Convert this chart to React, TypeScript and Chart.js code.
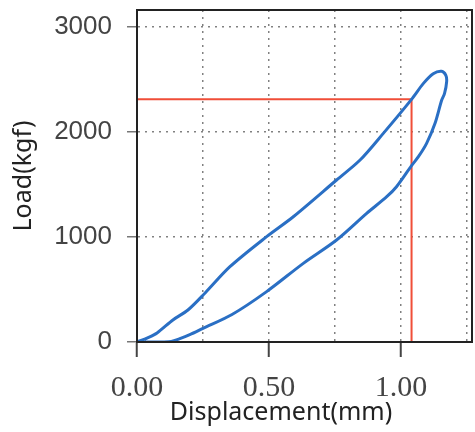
import React, { useEffect, useRef } from "react";
import { Chart, registerables } from "chart.js";

Chart.register(...registerables);

// Hysteresis loop (displacement mm, load kgf), traced along the closed path
const loopDisp = [
  0, 0.04, 0.076, 0.136, 0.193, 0.258, 0.352, 0.491, 0.592, 0.756, 0.845, 0.933,
  1.04, 1.085, 1.122, 1.154, 1.17, 1.173, 1.165, 1.154, 1.129, 1.097, 1.066, 1.04,
  0.983, 0.946, 0.87, 0.756, 0.63, 0.491, 0.36, 0.25, 0.2, 0.16, 0.13, 0.1, 0.03,
];
const loopLoad = [
  0, 40, 86, 210, 305, 467, 717, 1003, 1193, 1543, 1733, 1987,
  2311, 2463, 2555, 2578, 2540, 2480, 2368, 2302, 2083, 1892, 1765, 1680,
  1479, 1384, 1225, 971, 749, 480, 262, 130, 70, 30, 5, 0, 0,
];

// Red marker lines (yield point)
const markDisp = [0, 1.04, 1.04];
const markLoad = [2311, 2311, 0];

const xTicks = [0, 0.25, 0.5, 0.75, 1.0, 1.25];
const xLabeled = [0, 0.5, 1.0];
const yTicks = [0, 1000, 2000, 3000];

const xTitle = "Displacement(mm)";
const yTitle = "Load(kgf)";

const frameAndTitle = {
  id: "frameAndTitle",
  afterDraw(chart: any) {
    const { ctx, chartArea } = chart;
    ctx.save();
    ctx.strokeStyle = "#222";
    ctx.lineWidth = 2;
    ctx.strokeRect(
      chartArea.left,
      chartArea.top,
      chartArea.right - chartArea.left,
      chartArea.bottom - chartArea.top
    );
    ctx.font = "25px 'Noto Sans'";
    ctx.fillStyle = "#222";
    ctx.textAlign = "center";
    ctx.textBaseline = "middle";
    ctx.fillText(xTitle, chartArea.left + 144, 413);
    ctx.restore();
  },
};

export default function App() {
  const ref = useRef<HTMLCanvasElement>(null);

  useEffect(() => {
    const canvas = ref.current!;
    const gridColor = "rgba(115,115,115,0.9)";
    const chart = new Chart(canvas, {
      type: "scatter",
      data: {
        datasets: [
          {
            data: loopDisp.map((x, i) => ({ x, y: loopLoad[i] })),
            showLine: true,
            borderColor: "#2a6fc4",
            borderWidth: 3,
            pointRadius: 0,
            tension: 0.3,
            fill: false,
          },
          {
            data: markDisp.map((x, i) => ({ x, y: markLoad[i] })),
            showLine: true,
            borderColor: "#f04e38",
            borderWidth: 2,
            pointRadius: 0,
            tension: 0,
            fill: false,
          },
        ],
      },
      options: {
        responsive: false,
        animation: false,
        devicePixelRatio: 1,
        layout: { padding: { top: 10, right: 3, left: 0, bottom: 0 } },
        plugins: {
          legend: { display: false },
          tooltip: { enabled: false },
        },
        scales: {
          x: {
            type: "linear",
            min: 0,
            max: 1.269,
            afterBuildTicks: (s: any) => {
              s.ticks = xTicks.map((v) => ({ value: v }));
            },
            afterFit: (s: any) => {
              s.height = 90;
              s.paddingLeft = 0;
              s.paddingRight = 0;
            },
            ticks: {
              autoSkip: false,
              maxRotation: 0,
              padding: 13,
              color: "#444",
              font: { family: "'Liberation Serif'", size: 30 },
              callback: (v: any) => (xLabeled.includes(Number(v)) ? Number(v).toFixed(2) : ""),
            },
            grid: {
              color: gridColor,
              lineWidth: 1.5,
              tickLength: 15,
              tickWidth: 2,
              tickColor: (c: any) =>
                c.tick && xLabeled.includes(c.tick.value) ? "#444" : "rgba(0,0,0,0)",
            },
            border: { display: true, color: "#222", width: 2, dash: [2, 5] },
            title: { display: false },
          },
          y: {
            type: "linear",
            min: 0,
            max: 3162,
            afterBuildTicks: (s: any) => {
              s.ticks = yTicks.map((v) => ({ value: v }));
            },
            afterFit: (s: any) => {
              s.width = 137;
              s.paddingTop = 0;
              s.paddingBottom = 0;
            },
            ticks: {
              padding: 15,
              color: "#444",
              font: { family: "'Liberation Sans'", size: 26 },
              callback: (v: any) => String(v),
            },
            grid: {
              color: gridColor,
              lineWidth: 1.5,
              tickLength: 10,
              tickWidth: 1.5,
              tickColor: "#777",
            },
            border: { display: true, color: "#222", width: 2, dash: [2, 5] },
            title: {
              display: true,
              text: yTitle,
              color: "#222",
              font: { family: "'Noto Sans'", size: 25 },
              padding: { top: 9, bottom: 0 },
            },
          },
        },
      },
      plugins: [frameAndTitle],
    } as any);
    return () => chart.destroy();
  }, []);

  return (
    <div
      style={{
        position: "fixed",
        left: 0,
        top: 0,
        width: 475,
        height: 432,
        background: "#fff",
      }}
    >
      <canvas ref={ref} width={475} height={432} style={{ display: "block" }} />
    </div>
  );
}
